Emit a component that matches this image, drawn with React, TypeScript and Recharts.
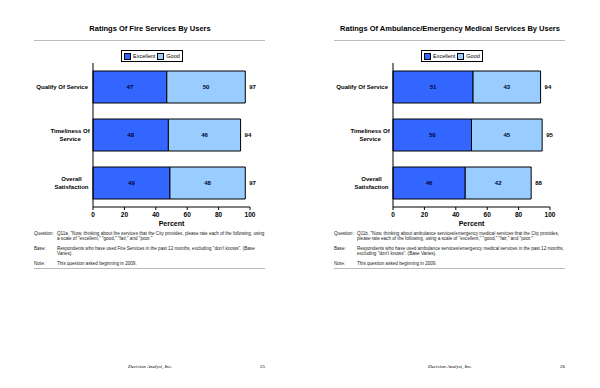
import React from "react"
import { Bar, BarChart, XAxis, YAxis, LabelList } from "recharts"

const categories = ["Qualify Of Service", "Timeliness Of Service", "Overall Satisfaction"]
const categoryLines = [["Qualify Of Service"], ["Timeliness Of", "Service"], ["Overall", "Satisfaction"]]
const fireExcellent = [47, 48, 49]
const fireGood = [50, 46, 48]
const fireTotal = [97, 94, 97]
const emsExcellent = [51, 50, 46]
const emsGood = [43, 45, 42]
const emsTotal = [94, 95, 88]
const xTicks = [0, 20, 40, 60, 80, 100]

const FONT = "'Liberation Sans', Arial, sans-serif"
const DARK = "#3366FF"
const LIGHT = "#99CCFF"

function buildRows(excellent: number[], good: number[], total: number[]) {
  return categories.map((name, i) => ({ name, excellent: excellent[i], good: good[i], total: total[i] }))
}

function CategoryTick(props: any) {
  const { x, y, payload } = props
  const idx = categories.indexOf(payload.value)
  const lines = categoryLines[idx] || [payload.value]
  const right = x + 3
  if (lines.length === 1) {
    return (
      <text x={right} y={y + 2.2} textAnchor="end" fontSize={6} fontWeight="bold" fontFamily={FONT} fill="#000">
        {lines[0]}
      </text>
    )
  }
  const longest = Math.max(...lines.map((l) => l.length))
  const cx = right - (longest * 2.75) / 2
  return (
    <text x={cx} y={y - 2} textAnchor="middle" fontSize={6} fontWeight="bold" fontFamily={FONT} fill="#000">
      {lines.map((l, i) => (
        <tspan key={i} x={cx} dy={i === 0 ? 0 : 7.5}>
          {l}
        </tspan>
      ))}
    </text>
  )
}

function LegendBox() {
  return (
    <div
      style={{
        position: "absolute",
        top: 50,
        left: 121,
        border: "1px solid #000",
        background: "#fff",
        display: "flex",
        alignItems: "center",
        gap: 2,
        padding: "1px 2px",
        fontFamily: FONT,
        fontSize: 5.5,
        lineHeight: "8px",
      }}
    >
      <span style={{ width: 5, height: 5, background: DARK, border: "1px solid #000", display: "inline-block" }} />
      <span>Excellent</span>
      <span style={{ width: 5, height: 5, background: LIGHT, border: "1px solid #000", display: "inline-block" }} />
      <span>Good</span>
    </div>
  )
}

type PanelProps = {
  left: number
  title: string
  page: string
  rows: any[]
  question: string
  base: string
}

function Panel({ left, title, page, rows, question, base }: PanelProps) {
  const noteStyle: React.CSSProperties = { position: "absolute", fontSize: 4.6, lineHeight: "5px", fontFamily: FONT, color: "#222" }
  const labelProps = { fontSize: 6, fontWeight: "bold", fill: "#000033", fontFamily: FONT }
  return (
    <div style={{ position: "absolute", left, top: 0, width: 300, height: 388 }}>
      <div style={{ position: "absolute", top: 24, left: 0, width: 300, textAlign: "center", fontFamily: FONT, fontWeight: "bold", fontSize: 7.5 }}>
        {title}
      </div>
      <div style={{ position: "absolute", top: 40, left: 34, width: 231, height: 1, background: "#bbb" }} />
      <div style={{ position: "absolute", left: 0, top: 0 }}>
        <BarChart
          width={300}
          height={240}
          data={rows}
          layout="vertical"
          margin={{ top: 63, right: 50, bottom: 8, left: 33 }}
          barSize={32}
        >
          <XAxis
            type="number"
            domain={[0, 100]}
            ticks={xTicks}
            tick={{ fontSize: 6.5, fill: "#000", fontFamily: FONT, fontWeight: "bold" }}
            stroke="#000"
            tickSize={3}
            height={25}
            label={{ value: "Percent", position: "insideBottom", offset: 6, fontSize: 7, fontWeight: "bold", fill: "#000", fontFamily: FONT }}
          />
          <YAxis type="category" dataKey="name" width={60} tick={<CategoryTick />} tickLine={false} stroke="#000" />
          <Bar dataKey="excellent" stackId="a" fill={DARK} stroke="#000" strokeWidth={1} isAnimationActive={false}>
            <LabelList dataKey="excellent" position="center" {...labelProps} />
          </Bar>
          <Bar dataKey="good" stackId="a" fill={LIGHT} stroke="#000" strokeWidth={1} isAnimationActive={false}>
            <LabelList dataKey="good" position="center" {...labelProps} />
            <LabelList dataKey="total" position="right" offset={4} {...labelProps} fill="#000" />
          </Bar>
        </BarChart>
      </div>
      <LegendBox />
      <div style={{ ...noteStyle, top: 231, left: 34, width: 232 }}>
        <div style={{ display: "flex" }}>
          <span style={{ width: 23, flexShrink: 0 }}>Question:</span>
          <span>{question}</span>
        </div>
        <div style={{ display: "flex", marginTop: 5 }}>
          <span style={{ width: 23, flexShrink: 0 }}>Base:</span>
          <span>{base}</span>
        </div>
        <div style={{ display: "flex", marginTop: 5 }}>
          <span style={{ width: 23, flexShrink: 0 }}>Note:</span>
          <span>This question asked beginning in 2009.</span>
        </div>
      </div>
      <div style={{ position: "absolute", top: 268, left: 34, width: 231, height: 1, background: "#bbb" }} />
      <div style={{ position: "absolute", top: 364, left: 128, fontFamily: "'Liberation Serif', serif", fontStyle: "italic", fontSize: 5 }}>
        Decision Analyst, Inc.
      </div>
      <div style={{ position: "absolute", top: 364, left: 260, fontFamily: "'Liberation Serif', serif", fontSize: 5 }}>{page}</div>
    </div>
  )
}

export default function App() {
  return (
    <div style={{ position: "absolute", left: 0, top: 0, width: 600, height: 388, background: "#fff", overflow: "hidden" }}>
      <Panel
        left={0}
        title="Ratings Of Fire Services By Users"
        page="25"
        rows={buildRows(fireExcellent, fireGood, fireTotal)}
        question={'Q11a. "Now, thinking about fire services that the City provides, please rate each of the following, using a scale of "excellent," "good," "fair," and "poor."'}
        base={'Respondents who have used Fire Services in the past 12 months, excluding "don\'t knows". (Base Varies).'}
      />
      <Panel
        left={300}
        title="Ratings Of Ambulance/Emergency Medical Services By Users"
        page="26"
        rows={buildRows(emsExcellent, emsGood, emsTotal)}
        question={'Q11b. "Now, thinking about ambulance services/emergency medical services that the City provides, please rate each of the following, using a scale of "excellent," "good," "fair," and "poor."'}
        base={'Respondents who have used ambulance services/emergency medical services in the past 12 months, excluding "don\'t knows". (Base Varies).'}
      />
    </div>
  )
}
